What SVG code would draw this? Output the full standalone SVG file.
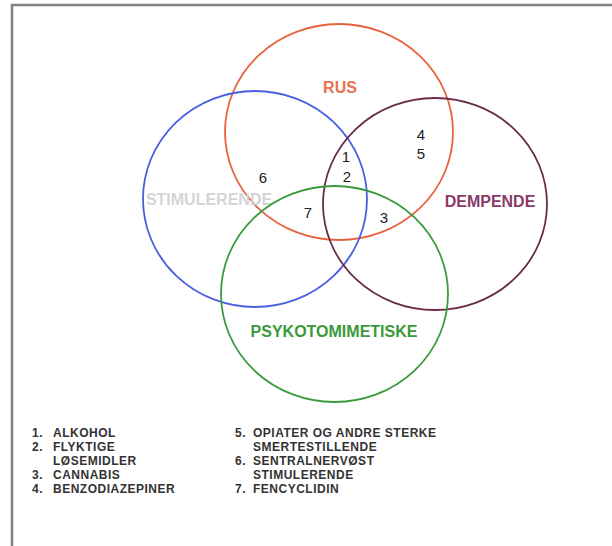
<svg xmlns="http://www.w3.org/2000/svg" width="612" height="546" viewBox="0 0 612 546">
<style>
.ring{fill:none;stroke-width:1.8}
.lab{font-family:"Liberation Sans",Arial,sans-serif;font-weight:bold;font-size:16px;text-anchor:middle}
.num{font-family:"Liberation Sans",Arial,sans-serif;font-size:15px;fill:#222;text-anchor:middle}
.leg{font-family:"Liberation Sans",Arial,sans-serif;font-weight:bold;font-size:12px;fill:#333;letter-spacing:0.5px}
</style>
<rect width="612" height="546" fill="#ffffff"/>
<path d="M12,546 V5 H612" fill="none" stroke="#808080" stroke-width="2.5"/>
<g id="rus">
<ellipse class="ring" cx="339" cy="132" rx="114" ry="108" stroke="#e8603c"/>
<text class="lab" x="340" y="93" fill="#e8704a">RUS</text>
</g>
<g id="stimulerende">
<ellipse class="ring" cx="255" cy="199" rx="112" ry="108" stroke="#4a5ee0"/>
<text class="lab" x="209" y="205" fill="#d4d4d8">STIMULERENDE</text>
</g>
<g id="dempende">
<ellipse class="ring" cx="435" cy="204" rx="112" ry="106" stroke="#6a2a4a"/>
<text class="lab" x="490" y="207" fill="#8a3a6a">DEMPENDE</text>
</g>
<g id="psykotomimetiske">
<ellipse class="ring" cx="334.5" cy="294" rx="113.5" ry="108" stroke="#3a9a3a"/>
<text class="lab" x="334" y="337" fill="#3a9a3a">PSYKOTOMIMETISKE</text>
</g>
<g id="numbers">
<text class="num" x="346" y="162">1</text>
<text class="num" x="347" y="182">2</text>
<text class="num" x="384" y="223">3</text>
<text class="num" x="421" y="140">4</text>
<text class="num" x="421" y="159">5</text>
<text class="num" x="263" y="183">6</text>
<text class="num" x="308" y="218">7</text>
</g>
<g id="legend">
<text class="leg" x="32" y="437">1.</text><text class="leg" x="53" y="437">ALKOHOL</text>
<text class="leg" x="32" y="451">2.</text><text class="leg" x="53" y="451">FLYKTIGE</text>
<text class="leg" x="53" y="465">LØSEMIDLER</text>
<text class="leg" x="32" y="479">3.</text><text class="leg" x="53" y="479">CANNABIS</text>
<text class="leg" x="32" y="493">4.</text><text class="leg" x="53" y="493">BENZODIAZEPINER</text>
<text class="leg" x="235" y="437">5.</text><text class="leg" x="253" y="437">OPIATER OG ANDRE STERKE</text>
<text class="leg" x="253" y="451">SMERTESTILLENDE</text>
<text class="leg" x="235" y="465">6.</text><text class="leg" x="253" y="465">SENTRALNERVØST</text>
<text class="leg" x="253" y="479">STIMULERENDE</text>
<text class="leg" x="235" y="493">7.</text><text class="leg" x="253" y="493">FENCYCLIDIN</text>
</g>
</svg>
